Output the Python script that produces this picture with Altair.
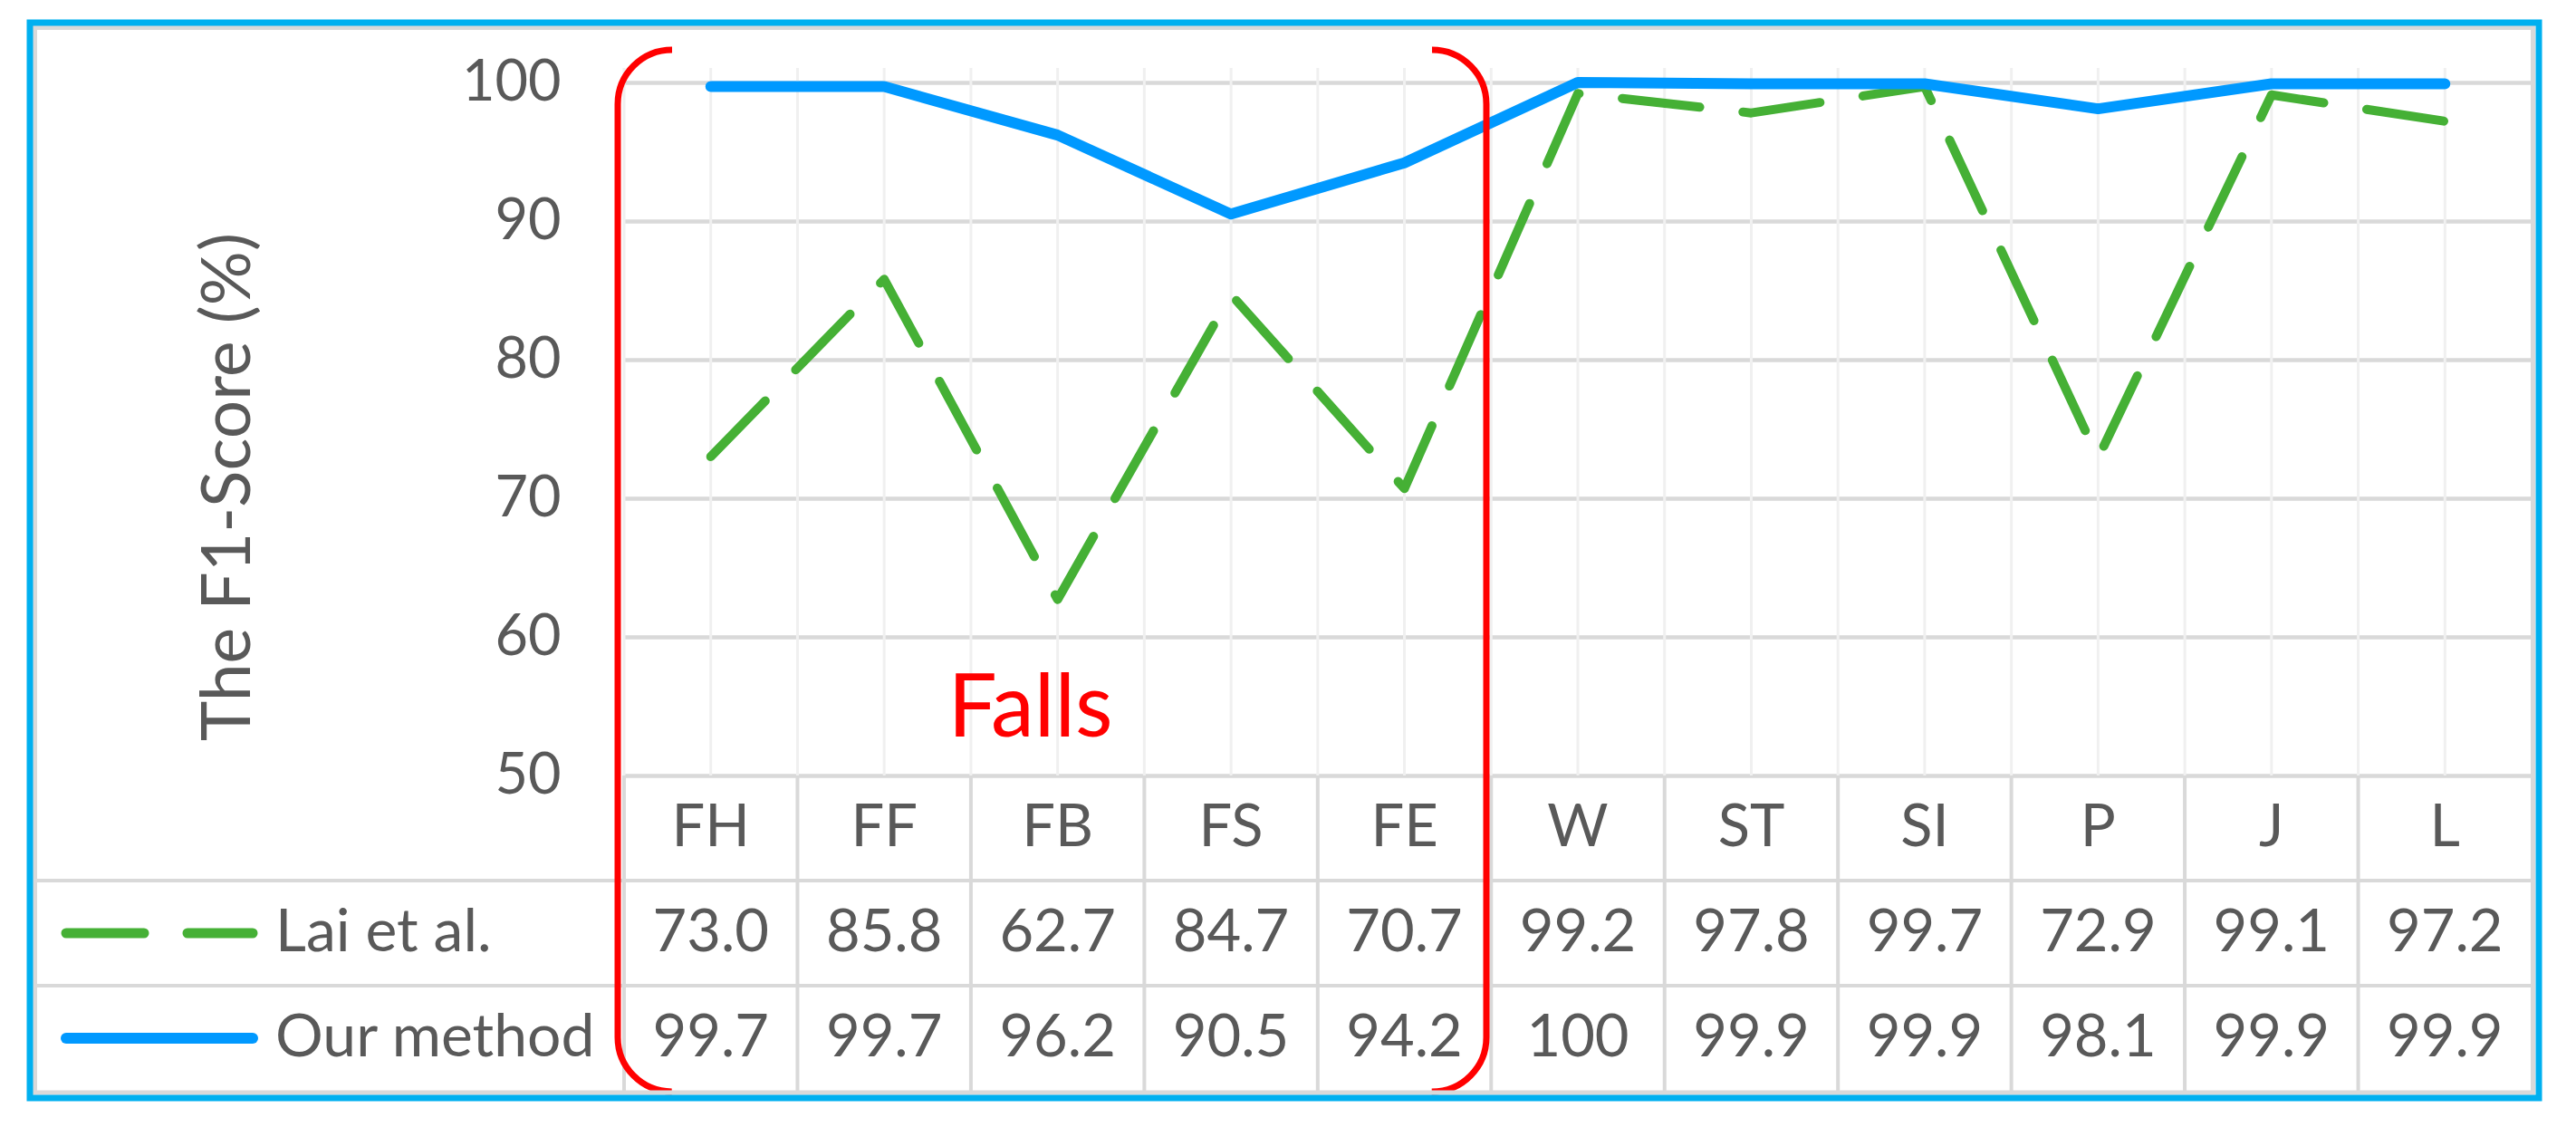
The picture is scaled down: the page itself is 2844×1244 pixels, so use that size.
import altair as alt
import pandas as pd

# ---------------- data ----------------
cats = ["FH", "FF", "FB", "FS", "FE", "W", "ST", "SI", "P", "J", "L"]
lai = [73.0, 85.8, 62.7, 84.7, 70.7, 99.2, 97.8, 99.7, 72.9, 99.1, 97.2]
ours = [99.7, 99.7, 96.2, 90.5, 94.2, 100, 99.9, 99.9, 98.1, 99.9, 99.9]
series = ["Lai et al.", "Our method"]
y_ticks = [50, 60, 70, 80, 90, 100]
y_title = "The F1-Score (%)"
annotation = "Falls"

# ---------------- style / layout ----------------
FONT = "Lato"
TXT = "#595959"
GREEN = "#45B035"
BLUE = "#0099FF"
GRID = "#D9D9D9"
LIGHT = "#F0F0F0"
W, H = 2106, 765
ROW_H = 116
TBL_BOT = H + 3 * ROW_H

long = pd.DataFrame({
    "cat": cats * 2,
    "series": [series[0]] * len(cats) + [series[1]] * len(cats),
    "value": lai + ours,
})

row_keys = ["_hdr"] + series
trows = []
for c in cats:
    trows.append({"cat": c, "row": "_hdr", "label": c})
for c, v in zip(cats, lai):
    trows.append({"cat": c, "row": series[0], "label": f"{v:.1f}"})
for c, v in zip(cats, ours):
    trows.append({"cat": c, "row": series[1], "label": f"{v:g}"})
table = pd.DataFrame(trows)
cat_df = pd.DataFrame({"cat": cats})
leg_df = pd.DataFrame({"row": series})
one = pd.DataFrame({"k": [0]})

xs = alt.Scale(type="band", domain=cats, paddingInner=0, paddingOuter=0)
yq = alt.Scale(domain=[50, 100], nice=False, zero=False)
yr = alt.Scale(type="band", domain=row_keys, range=[H, TBL_BOT], paddingInner=0, paddingOuter=0)

def X(bp=0.5):
    return alt.X("cat:N", scale=xs, axis=None, bandPosition=bp)

def YR(bp=0.5):
    return alt.Y("row:N", scale=yr, axis=None, bandPosition=bp)

# light vertical gridlines in plot area
vg_mid = alt.Chart(cat_df).mark_rule(color=LIGHT, strokeWidth=3).encode(
    x=X(0.5), y=alt.value(-16), y2=alt.value(H))
vg_edge = alt.Chart(cat_df).mark_rule(color=LIGHT, strokeWidth=3).encode(
    x=X(0.0), y=alt.value(-16), y2=alt.value(H))

# table lines
tv = alt.Chart(cat_df).mark_rule(color=GRID, strokeWidth=4).encode(
    x=X(0.0), y=alt.value(H), y2=alt.value(TBL_BOT))
th = alt.Chart(leg_df).mark_rule(color=GRID, strokeWidth=4).encode(
    y=YR(0.0), x=alt.value(-650), x2=alt.value(W))

# lines
green = alt.Chart(long).transform_filter(alt.datum.series == series[0]).mark_line(
    color=GREEN, strokeWidth=10, strokeDash=[86, 48], strokeCap="round", strokeJoin="round"
).encode(
    x=X(0.5),
    y=alt.Y("value:Q", scale=yq, axis=alt.Axis(
        values=y_ticks, grid=True, gridColor=GRID, gridWidth=4.5, domain=False, ticks=False,
        tickSize=0, labelPadding=70, labelFont=FONT, labelFontSize=63, labelColor=TXT,
        title=y_title, titleFont=FONT, titleFontSize=75, titleColor=TXT, titleFontWeight="normal",
        titleX=-437, titleY=446, titleAlign="center", titleBaseline="middle")),
)
blue = alt.Chart(long).transform_filter(alt.datum.series == series[1]).mark_line(
    color=BLUE, strokeWidth=12, strokeCap="round", strokeJoin="round"
).encode(x=X(0.5), y=alt.Y("value:Q", scale=yq, axis=None))

# table text
ttext = alt.Chart(table).mark_text(font=FONT, fontSize=65, color=TXT, baseline="middle").encode(
    x=X(0.5), y=YR(0.5), text="label:N")

# legend column
ltext = alt.Chart(leg_df).mark_text(font=FONT, fontSize=66, color=TXT, align="left",
                                    baseline="middle").encode(
    x=alt.value(-385), y=YR(0.5), text="row:N")
key_g = alt.Chart(leg_df).transform_filter(alt.datum.row == series[0]).mark_rule(
    color=GREEN, strokeWidth=11, strokeDash=[86, 48], strokeCap="round").encode(
    x=alt.value(-616), x2=alt.value(-410), y=YR(0.5))
key_b = alt.Chart(leg_df).transform_filter(alt.datum.row == series[1]).mark_rule(
    color=BLUE, strokeWidth=12, strokeCap="round").encode(
    x=alt.value(-616), x2=alt.value(-410), y=YR(0.5))

# annotation
falls = alt.Chart(one).mark_text(text=annotation, font=FONT, fontSize=96, color="#FF0000",
                                 baseline="alphabetic", dx=-30).encode(
    x=alt.X(datum="FB", type="nominal", scale=xs, axis=None, bandPosition=0.5),
    y=alt.Y(datum=52.8, scale=yq, axis=None))
bracket = alt.Chart(one).mark_rect(
    fillOpacity=0, stroke="#FF0000", strokeWidth=7, cornerRadius=60,
    strokeDash=[0, 839, 1218.5, 839, 1218.5]).encode(
    x=alt.value(-7), x2=alt.value(952), y=alt.value(-36), y2=alt.value(1114))

gray_border = alt.Chart(one).mark_rect(fillOpacity=0, stroke=GRID, strokeWidth=5).encode(
    x=alt.value(-650.5), x2=alt.value(2107.5), y=alt.value(-60.5), y2=alt.value(1115))
blue_border = alt.Chart(one).mark_rect(fillOpacity=0, stroke="#00B0F0", strokeWidth=7).encode(
    x=alt.value(-656), x2=alt.value(2114), y=alt.value(-66), y2=alt.value(1121))

chart = alt.layer(
    vg_mid, vg_edge, tv, th, green, blue, ttext, ltext, key_g, key_b, falls, bracket,
    gray_border, blue_border
).resolve_scale(y="independent").properties(
    width=W, height=H,
    autosize=alt.AutoSizeParams(type="none"),
    padding={"left": 681, "top": 83, "right": 30, "bottom": 370},
    background="white",
).configure_view(stroke=None)

chart.save("out.html", embed_options={"renderer": "svg", "actions": False})
